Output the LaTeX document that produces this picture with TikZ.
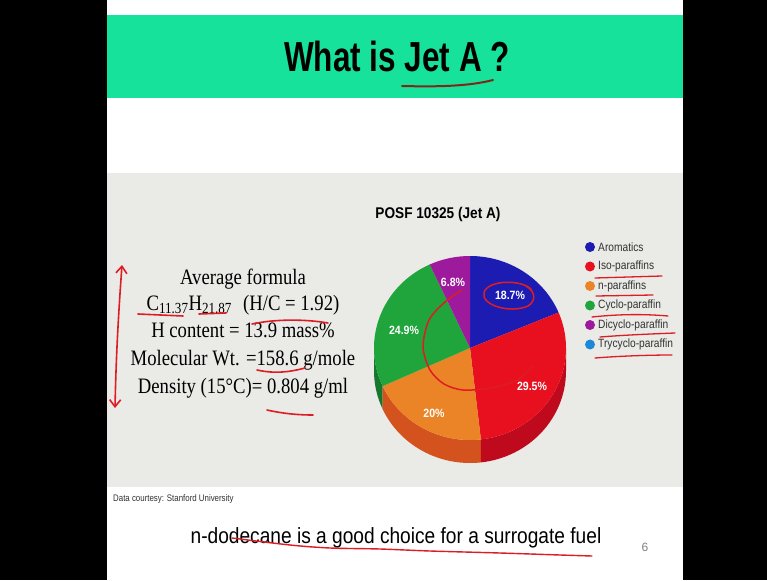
\documentclass[tikz,border=0pt]{standalone}
\usepackage{fontspec}
\setmainfont{Liberation Serif}
\newfontfamily\arialf{Liberation Sans}
\usetikzlibrary{arrows.meta}
\definecolor{band}{RGB}{22,226,156}
\definecolor{photo}{RGB}{234,234,231}
\definecolor{pen}{RGB}{222,28,36}
\definecolor{penbrown}{RGB}{125,40,25}
\definecolor{cblue}{RGB}{28,28,178}
\definecolor{cred}{RGB}{232,16,30}
\definecolor{corange}{RGB}{234,132,38}
\definecolor{cgreen}{RGB}{32,164,60}
\definecolor{cpurple}{RGB}{158,26,156}
\definecolor{clblue}{RGB}{30,136,216}
\definecolor{sred}{RGB}{190,10,28}
\definecolor{sorange}{RGB}{212,82,30}
\definecolor{sgreen}{RGB}{22,120,44}
\definecolor{legtext}{RGB}{50,50,50}
\newcommand{\nx}[2]{\scalebox{#1}[1]{#2}}
\begin{document}
\begin{tikzpicture}[x=1pt,y=-1pt,
  lefttext/.style={anchor=base,inner sep=0pt,font=\fontsize{22}{26}\selectfont},
  pielabel/.style={inner sep=0pt,text=white,font=\arialf\bfseries\fontsize{12}{14}\selectfont},
  legdot/.style={circle,inner sep=0pt,minimum size=10pt},
  legtextstyle/.style={anchor=west,inner sep=0pt,text=legtext,font=\arialf\fontsize{12}{14}\selectfont},
  redpen/.style={draw=pen,line width=1.6pt,line cap=round,line join=round}]
\useasboundingbox (0,0) rectangle (767,580);
% backgrounds
\fill[white] (0,0) rectangle (767,580);
\fill[band] (107,15) rectangle (683,98);
\fill[photo] (107,173) rectangle (683,487);
\fill[black] (0,0) rectangle (107,580);
\fill[black] (683,0) rectangle (767,580);
% title
\node[anchor=base,inner sep=0pt,font=\arialf\bfseries\fontsize{42}{48}\selectfont] (title) at (397,72) {\nx{0.75}{What is Jet A ?}};
\draw[draw=penbrown,line width=2pt,line cap=round] (402,86) .. controls (440,87) and (470,86) .. (493,80);
% left text
\node[lefttext] (l1) at (243,284) {\nx{0.85}{Average formula}};
\node[lefttext] (l2) at (243,310) {\nx{0.85}{C\textsubscript{11.37}H\textsubscript{21.87}\hspace{0.6em}(H/C = 1.92)}};
\node[lefttext] (l3) at (243,337) {\nx{0.85}{H content = 13.9 mass\%}};
\node[lefttext] (l4) at (243,365) {\nx{0.85}{Molecular Wt. =158.6 g/mole}};
\node[lefttext] (l5) at (243,393) {\nx{0.85}{Density (15°C)= 0.804 g/ml}};
% left annotations
\draw[redpen,{Straight Barb[length=7pt,width=11pt]}-{Straight Barb[length=7pt,width=11pt]}] (122,265) .. controls (118,320) and (116,360) .. (115,408);
\draw[redpen] (138,314) -- (183,316);
\draw[redpen] (199,314) -- (226,313);
\draw[redpen] (252,324) .. controls (275,319) and (305,319) .. (328,323);
\draw[redpen] (257,370) .. controls (275,374) and (290,372) .. (305,368);
\draw[redpen] (267,410) .. controls (285,414) and (300,415) .. (313,415);
% pie chart title
\node[inner sep=0pt,font=\arialf\bfseries\fontsize{15.5}{18}\selectfont] (pietitle) at (438,214) {\nx{0.88}{POSF 10325 (Jet A)}};
% pie
\begin{scope}[shift={(470,348)},yscale=-1]
  \fill[sgreen] (-180:96 and 92) arc[start angle=-180,end angle=-155.5,x radius=96,y radius=92] -- ++(0,-23) arc[start angle=-155.5,end angle=-180,x radius=96,y radius=92] -- cycle;
  \fill[sorange] (-155.5:96 and 92) arc[start angle=-155.5,end angle=-83.5,x radius=96,y radius=92] -- ++(0,-23) arc[start angle=-83.5,end angle=-155.5,x radius=96,y radius=92] -- cycle;
  \fill[sred] (-83.5:96 and 92) arc[start angle=-83.5,end angle=0,x radius=96,y radius=92] -- ++(0,-23) arc[start angle=0,end angle=-83.5,x radius=96,y radius=92] -- cycle;
  \fill[cblue] (0,0) -- (90:96 and 92) arc[start angle=90,end angle=22.7,x radius=96,y radius=92] -- cycle;
  \fill[cred] (0,0) -- (22.7:96 and 92) arc[start angle=22.7,end angle=-83.5,x radius=96,y radius=92] -- cycle;
  \fill[corange] (0,0) -- (-83.5:96 and 92) arc[start angle=-83.5,end angle=-155.5,x radius=96,y radius=92] -- cycle;
  \fill[cgreen] (0,0) -- (-155.5:96 and 92) arc[start angle=-155.5,end angle=-245.2,x radius=96,y radius=92] -- cycle;
  \fill[cpurple] (0,0) -- (-245.2:96 and 92) arc[start angle=-245.2,end angle=-270,x radius=96,y radius=92] -- cycle;
\end{scope}
% pie labels
\node[pielabel] (p1) at (510,295) {\nx{0.88}{18.7\%}};
\node[pielabel] (p2) at (532,386) {\nx{0.88}{29.5\%}};
\node[pielabel] (p3) at (434,413) {\nx{0.88}{20\%}};
\node[pielabel] (p4) at (404,330) {\nx{0.88}{24.9\%}};
\node[pielabel] (p5) at (453,282) {\nx{0.88}{6.8\%}};
% pie annotations
\draw[redpen,line width=1.5pt] (531,289) .. controls (522,280) and (490,279) .. (484,292) .. controls (480,305) and (510,314) .. (528,306) .. controls (536,301) and (536,292) .. (526,286);
\draw[redpen,line width=1.5pt] plot[smooth] coordinates {(462,290) (445,302) (429,320) (423,347) (430,370) (444,384) (463,390) (490,388) (517,380) (533,366)};
% legend
\foreach \i/\c/\t in {0/cblue/Aromatics,1/cred/Iso-paraffins,2/corange/n-paraffins,3/cgreen/Cyclo-paraffin,4/cpurple/Dicyclo-paraffin,5/clblue/Trycyclo-paraffin}{
  \node[legdot,fill=\c] (dot\i) at (590,247+19.5*\i) {};
  \node[legtextstyle] (leg\i) at (598,247+19.5*\i) {\nx{0.85}{\t}};
}
\draw[redpen,line width=1.3pt] (595,278) -- (662,276);
\draw[redpen,line width=1.3pt] (596,296) -- (653,295);
\draw[redpen,line width=1.3pt] (592,317) .. controls (620,314) and (645,314) .. (668,316);
\draw[redpen,line width=1.3pt] (600,337) .. controls (625,335) and (650,334) .. (675,333);
\draw[redpen,line width=1.3pt] (595,358) .. controls (620,356) and (650,355) .. (672,355);
% bottom
\node[anchor=west,inner sep=0pt,text=legtext,font=\arialf\fontsize{9.5}{11}\selectfont] (data) at (113,499) {\nx{0.83}{Data courtesy: Stanford University}};
\node[anchor=base,inner sep=0pt,font=\arialf\fontsize{22}{26}\selectfont] (concl) at (396,543) {\nx{0.87}{n-dodecane is a good choice for a surrogate fuel}};
\node[inner sep=0pt,text=gray,font=\arialf\fontsize{12}{14}\selectfont] (pagenum) at (645,547) {6};
\draw[redpen,line width=1.4pt] plot[smooth] coordinates {(232,538) (290,545) (330,548) (380,549) (430,551) (500,553) (560,555) (592,556)};
\end{tikzpicture}
\end{document}
